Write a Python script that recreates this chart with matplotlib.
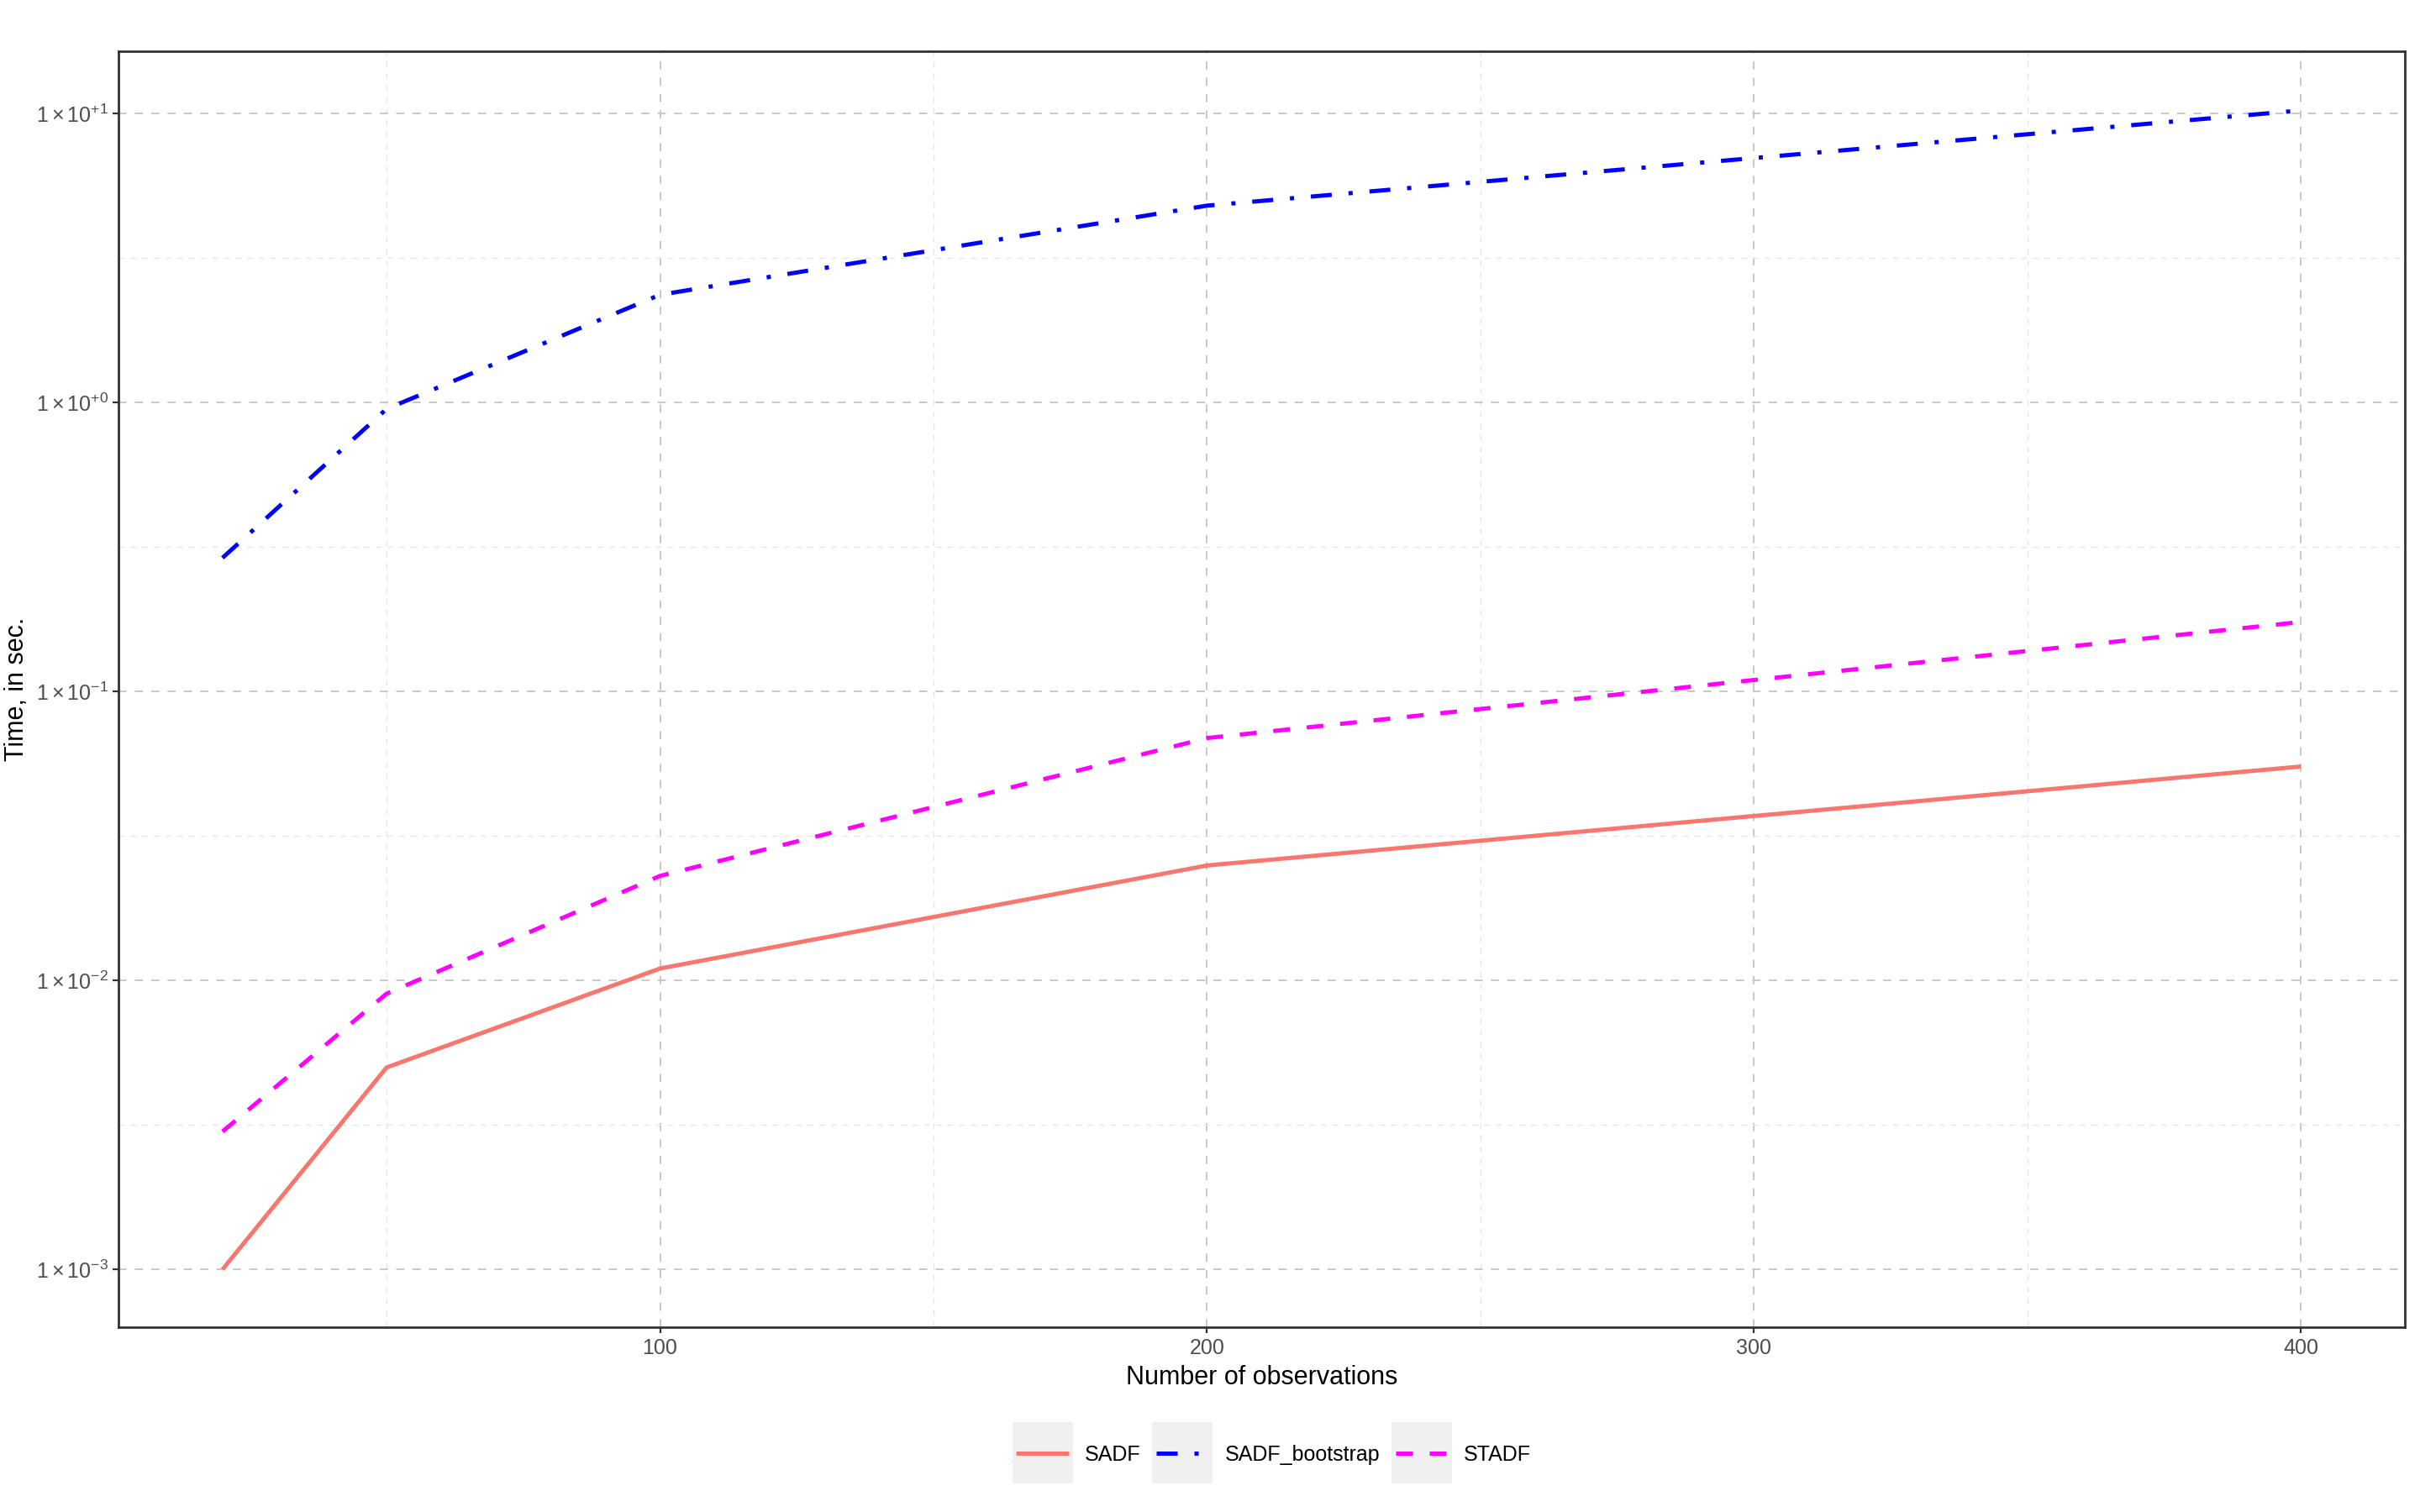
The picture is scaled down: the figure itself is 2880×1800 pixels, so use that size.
import numpy as np
import matplotlib.pyplot as plt
from matplotlib.patches import Rectangle
from matplotlib.ticker import FixedLocator, FuncFormatter

# Дані
obs = [20, 50, 100, 200, 400]
sadf = [0.001, 0.005, 0.011, 0.025, 0.055]
sadf_boot = [0.29, 0.95, 2.36, 4.8, 10.25]
stadf = [0.003, 0.009, 0.023, 0.069, 0.174]
series_names = ['SADF', 'SADF_bootstrap', 'STADF']

plt.rcParams['font.family'] = ['Liberation Sans', 'DejaVu Sans']
plt.rcParams['mathtext.fontset'] = 'custom'
plt.rcParams['mathtext.rm'] = 'Liberation Sans'
plt.rcParams['mathtext.it'] = 'Liberation Sans:italic'

fig = plt.figure(figsize=(14.4, 9), dpi=200)
ax = fig.add_axes([0.049, 0.1222, 0.9447, 0.8438])

lw = 1.8
ax.plot(obs, sadf, color='#F8766D', lw=lw, ls='-', label=series_names[0],
        solid_capstyle='butt')
ax.plot(obs, sadf_boot, color='#0000FF', lw=lw, ls=(0, (5, 4, 1, 4)),
        label=series_names[1], dash_capstyle='butt')
ax.plot(obs, stadf, color='#FF00FF', lw=lw, ls=(0, (4, 4)),
        label=series_names[2], dash_capstyle='butt')

ax.set_yscale('log')
ax.set_xlim(1, 419)
ax.set_ylim(10 ** -3.2, 10 ** 1.215)

ax.xaxis.set_major_locator(FixedLocator([100, 200, 300, 400]))
ax.xaxis.set_minor_locator(FixedLocator([50, 150, 250, 350]))
ax.yaxis.set_major_locator(FixedLocator([1e-3, 1e-2, 1e-1, 1e0, 1e1]))
ax.yaxis.set_minor_locator(FixedLocator(10 ** np.array([-2.5, -1.5, -0.5, 0.5])))


def sci(v, pos):
    e = int(round(np.log10(v)))
    sign = '+' if e >= 0 else '-'
    return r'$1\times10^{%s%d}$' % (sign, abs(e))


ax.yaxis.set_major_formatter(FuncFormatter(sci))
ax.yaxis.set_minor_formatter(FuncFormatter(lambda v, p: ''))

# Сітка у стилі ggplot
ax.grid(True, which='major', color='#C8C8C8', lw=0.7, ls=(0, (5, 5)))
ax.grid(True, which='minor', color='#E6E6E6', lw=0.5, ls=(0, (5, 5)))
ax.set_axisbelow(True)

ax.tick_params(axis='both', which='major', length=2.5, width=0.8, color='#333333',
               labelsize=9, labelcolor='#4D4D4D', pad=2)
ax.tick_params(axis='both', which='minor', length=0)
for s in ax.spines.values():
    s.set_color('#333333')
    s.set_linewidth(1.0)

ax.set_xlabel('Number of observations', fontsize=11, labelpad=3)
ax.set_ylabel('Time, in sec.', fontsize=11)
ax.yaxis.set_label_coords(-0.039, 0.5)

leg = ax.legend(loc='center', bbox_to_anchor=(0.5263, 0.038),
                bbox_transform=fig.transFigure, ncol=3, frameon=False,
                fontsize=9, handlelength=2.5, handletextpad=0.75,
                columnspacing=0.75)

# Сірі підкладки під ключами легенди
fig.canvas.draw()
for ln in leg.get_lines():
    bb = ln.get_window_extent(fig.canvas.get_renderer())
    cx = (bb.x0 + bb.x1) / 2
    cy = (bb.y0 + bb.y1) / 2
    w, h = 72 / 2880, 73 / 1800
    fx, fy = cx / 2880, cy / 1800
    fig.patches.append(Rectangle((fx - w / 2, fy - h / 2), w, h,
                                 transform=fig.transFigure, facecolor='#F0F0F0',
                                 edgecolor='none', zorder=-1))

fig.savefig('out.png', dpi=200)
